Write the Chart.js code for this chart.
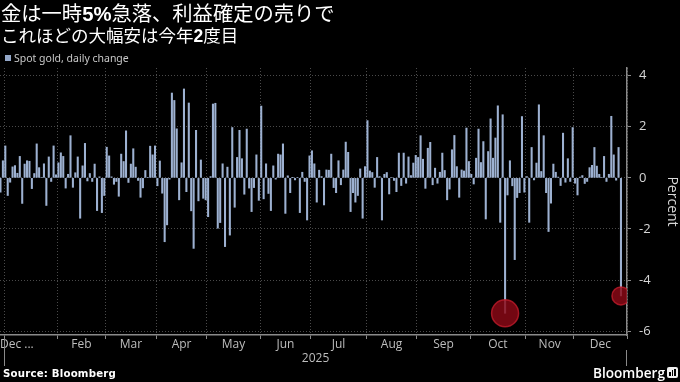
<!DOCTYPE html>
<html><head><meta charset="utf-8">
<script src="https://cdn.jsdelivr.net/npm/chart.js@4/dist/chart.umd.min.js"></script>
<style>
html,body{margin:0;padding:0;background:#000;width:680px;height:382px;overflow:hidden;}
#wrap{position:relative;width:680px;height:382px;background:#000;}
canvas{position:absolute;left:0;top:0;}
.t{position:absolute;color:#fff;white-space:nowrap;font-family:"Noto Sans CJK JP",sans-serif;}
</style></head><body>
<div id="wrap">
<canvas id="c" width="680" height="382"></canvas>
<div class="t" style="left:1px;top:0px;font-size:20.3px;line-height:24px;">金は一時<b style="font-family:'Liberation Sans',Arial,sans-serif;">5%</b>急落、利益確定の売りで</div>
<div class="t" style="left:1px;top:25px;font-size:17.5px;line-height:20px;">これほどの大幅安は今年<b style="font-family:'Liberation Sans',Arial,sans-serif;">2</b>度目</div>
<div style="position:absolute;left:5px;top:55px;width:6px;height:6px;background:#93a7c8;"></div>
<div class="t" style="left:14px;top:51px;font-size:10.5px;line-height:14px;color:#c8c8c8;font-family:'Noto Sans',sans-serif;">Spot gold, daily change</div>
<div class="t" style="left:3px;top:367px;font-size:10.2px;line-height:14px;font-weight:bold;font-family:'DejaVu Sans',sans-serif;letter-spacing:0.2px;">Source: Bloomberg</div>
<div class="t" style="left:593px;top:364px;font-size:13.6px;line-height:18px;font-weight:600;font-family:'Open Sans',sans-serif;">Bloomberg</div>
<div style="position:absolute;left:667px;top:367px;width:11px;height:11px;background:#eee;border-radius:2px;">
  <div style="position:absolute;left:2px;top:5px;width:1.5px;height:4px;background:#000;"></div>
  <div style="position:absolute;left:4.5px;top:3px;width:1.5px;height:6px;background:#000;"></div>
  <div style="position:absolute;left:7px;top:2px;width:1.5px;height:7px;background:#000;"></div>
</div>
</div>
<script>
// Daily % change of spot gold, one value per trading day, grouped by month
const dec2024 = [-0.56, 0.67];
const jan = [1.25, -0.69, -0.17, 0.43, 0.48, 0.18, 0.84, -1.00, 0.54, 0.67, 0.65, -0.42, 0.17, 1.33, 0.40, 0.02, 0.55, -1.08, 0.82, -0.14, 1.25, 0.12];
const feb = [0.59, 0.98, 0.84, -0.40, 0.14, 1.65, -0.37, 0.20, 0.82, -1.58, 0.47, 1.35, -0.12, 0.17, -0.14, 0.54, -1.28, 0.04, -1.36, -0.69];
const mar = [1.20, 0.86, 0.04, -0.25, -0.14, -0.72, 0.93, 0.64, 1.84, -0.18, 0.54, 1.14, 0.42, -0.10, -0.76, -0.39, 0.29, 0.02, 1.24, 0.90, 1.25];
const apr = [-0.31, 0.66, -0.60, -2.50, -1.84, -0.05, 3.32, 3.03, 1.92, -0.86, 0.59, 3.48, -0.54, 2.93, -1.29, -2.76, 1.86, -0.90, 0.70, -0.80, -0.86];
const may = [-1.52, 0.05, 2.89, 2.92, -1.97, -1.75, 0.55, -2.69, 0.42, -2.24, 1.97, -1.15, 0.80, 1.86, 0.75, -0.64, 1.91, -0.40, -1.32, -0.38, 0.90, -0.88];
const jun = [2.81, -0.82, 0.55, -0.61, -1.28, 0.47, -0.05, 0.93, 0.90, 1.33, -1.39, 0.08, -0.58, 0.01, -0.08, 0.02, -1.36, 0.22, -0.14, -1.65, 0.86];
const jul = [1.06, 0.55, -0.95, 0.30, 0.05, -1.06, 0.31, 0.30, 0.93, -0.38, -0.58, 0.67, -0.27, 0.31, 1.40, 1.00, -1.32, -0.58, -0.95, -0.69, 0.35, -1.58, 0.44];
const aug = [2.24, 0.27, 0.21, -0.37, 0.80, 0.05, -1.65, 0.14, 0.21, -0.63, 0.02, -0.10, -0.54, 0.97, -0.30, 0.97, -0.21, 0.82, 0.09, 0.58, 0.88];
const sep = [0.80, 1.65, 0.73, -0.41, 1.16, 1.39, -0.27, 0.38, -0.21, 0.22, 0.97, 0.29, -0.86, -0.44, 1.10, 1.66, 0.44, -0.76, 0.31, 0.27, 1.95, 0.64];
const oct = [0.14, -0.24, 0.77, 1.91, 0.60, 1.42, -1.61, 1.03, 2.31, 0.77, 1.56, 2.82, -1.74, 2.47, -5.30, -0.67, 0.67, -0.31, -3.20, -0.77, -0.58, 2.40, -0.56];
const nov = [0.05, -1.74, 1.19, -0.08, 0.58, 2.86, 0.25, 1.65, -0.58, -2.10, -0.99, 0.54, 0.22, 0.03, -0.30, 1.75, -0.17, 0.75, -0.14, 1.97];
const dec = [-0.21, -0.67, 0.03, 0.09, -0.22, -0.14, 0.40, 0.49, 1.19, 0.46, 0.14, 0.02, 0.84, -0.14, 0.14, 2.41, 0.90, -0.09, 1.19, -4.62];
const remainingDays = 2; // Dec 30-31, not yet traded

const monthLabels = ['Dec ...', 'Feb', 'Mar', 'Apr', 'May', 'Jun', 'Jul', 'Aug', 'Sep', 'Oct', 'Nov', 'Dec'];
const yearLabel = '2025';
const yTicks = [-6, -4, -2, 0, 2, 4];
const highlightDays = [{month: 10, day: 14}, {month: 12, day: 19}]; // Oct 21, Dec 29

const monthsList = [dec2024, jan, feb, mar, apr, may, jun, jul, aug, sep, oct, nov, dec];
const starts = [];
let acc = 0;
monthsList.forEach(m => { starts.push(acc); acc += m.length; });
const values = monthsList.flat();
const points = values.map((v, i) => ({x: i, y: v}));
const bounds = starts.slice(1).map(s => s - 0.5);
bounds.push(values.length + remainingDays - 0.5);
const hiPoints = highlightDays.map(h => {
  const i = starts[h.month] + h.day;
  return {x: i, y: values[i]};
});

const BAR = '#9db1d1';

const axisLabels = {
  id: 'axisLabels',
  afterDraw(chart) {
    const {ctx, chartArea} = chart;
    const x = chart.scales.x;
    ctx.save();
    ctx.fillStyle = '#bdbdbd';
    ctx.font = '12px "Open Sans", sans-serif';
    ctx.textBaseline = 'middle';
    for (let m = 0; m < 12; m++) {
      const a = x.getPixelForValue(bounds[m]);
      const b = x.getPixelForValue(bounds[m + 1]);
      if (m === 0) {
        ctx.textAlign = 'left';
        ctx.fillText(monthLabels[0], chartArea.left, 345);
      } else {
        ctx.textAlign = 'center';
        ctx.fillText(monthLabels[m], (a + b) / 2, 345);
      }
    }
    const y0 = x.getPixelForValue(bounds[0]);
    const y1 = x.getPixelForValue(bounds[12]);
    ctx.textAlign = 'center';
    ctx.fillText(yearLabel, (y0 + y1) / 2, 359);
    ctx.strokeStyle = '#8a8a8a';
    ctx.lineWidth = 1;
    ctx.beginPath();
    ctx.moveTo(Math.round(y0) + 0.5, 339); ctx.lineTo(Math.round(y0) + 0.5, 366);
    ctx.moveTo(Math.round(y1) - 0.5, 350); ctx.lineTo(Math.round(y1) - 0.5, 366);
    ctx.stroke();
    ctx.restore();
  }
};

new Chart(document.getElementById('c'), {
  type: 'bar',
  data: {
    datasets: [
      {
        type: 'scatter',
        data: hiPoints,
        order: 0,
        pointRadius: [13.5, 9],
        pointHoverRadius: [13.5, 9],
        backgroundColor: 'rgba(140,8,22,0.82)',
        borderColor: 'rgba(200,30,45,0.75)',
        borderWidth: 1.5
      },
      {
        type: 'bar',
        label: 'Spot gold, daily change',
        data: points,
        order: 1,
        backgroundColor: BAR,
        barThickness: 1.4
      }
    ]
  },
  options: {
    responsive: false,
    animation: false,
    devicePixelRatio: 1,
    layout: {padding: {left: 0, top: 68, right: 0, bottom: 0}, autoPadding: false},
    plugins: {legend: {display: false}, tooltip: {enabled: false}},
    scales: {
      x: {
        type: 'linear',
        offset: false,
        min: -0.2,
        max: values.length + remainingDays - 0.5,
        afterBuildTicks: s => { s.ticks = bounds.map(v => ({value: v})); },
        afterFit: s => { s.height = 47; s.paddingLeft = 0; s.paddingRight = 0; },
        ticks: {display: false},
        grid: {offset: false, color: '#4a4a4a', lineWidth: 1, drawTicks: true, tickLength: 4, tickColor: '#8a8a8a', tickBorderDash: []},
        border: {display: true, color: '#8a8a8a', width: 1.5, dash: [1, 2]}
      },
      y: {
        position: 'right',
        min: -6.15,
        max: 4.3,
        afterBuildTicks: s => { s.ticks = yTicks.map(v => ({value: v})); },
        afterFit: s => { s.width = 53; },
        ticks: {color: '#d6d6d6', font: {size: 13, family: '"Open Sans", sans-serif'}, padding: 8},
        grid: {color: '#4a4a4a', lineWidth: 1, drawTicks: true, tickLength: 4, tickColor: '#8a8a8a', tickBorderDash: []},
        border: {display: true, color: '#8a8a8a', width: 1.5, dash: [1, 2]},
        title: {display: true, text: 'Percent', color: '#d6d6d6', font: {size: 14, family: '"Open Sans", sans-serif'}, padding: {top: 0, bottom: 2}}
      }
    }
  },
  plugins: [axisLabels]
});
</script>
</body></html>
